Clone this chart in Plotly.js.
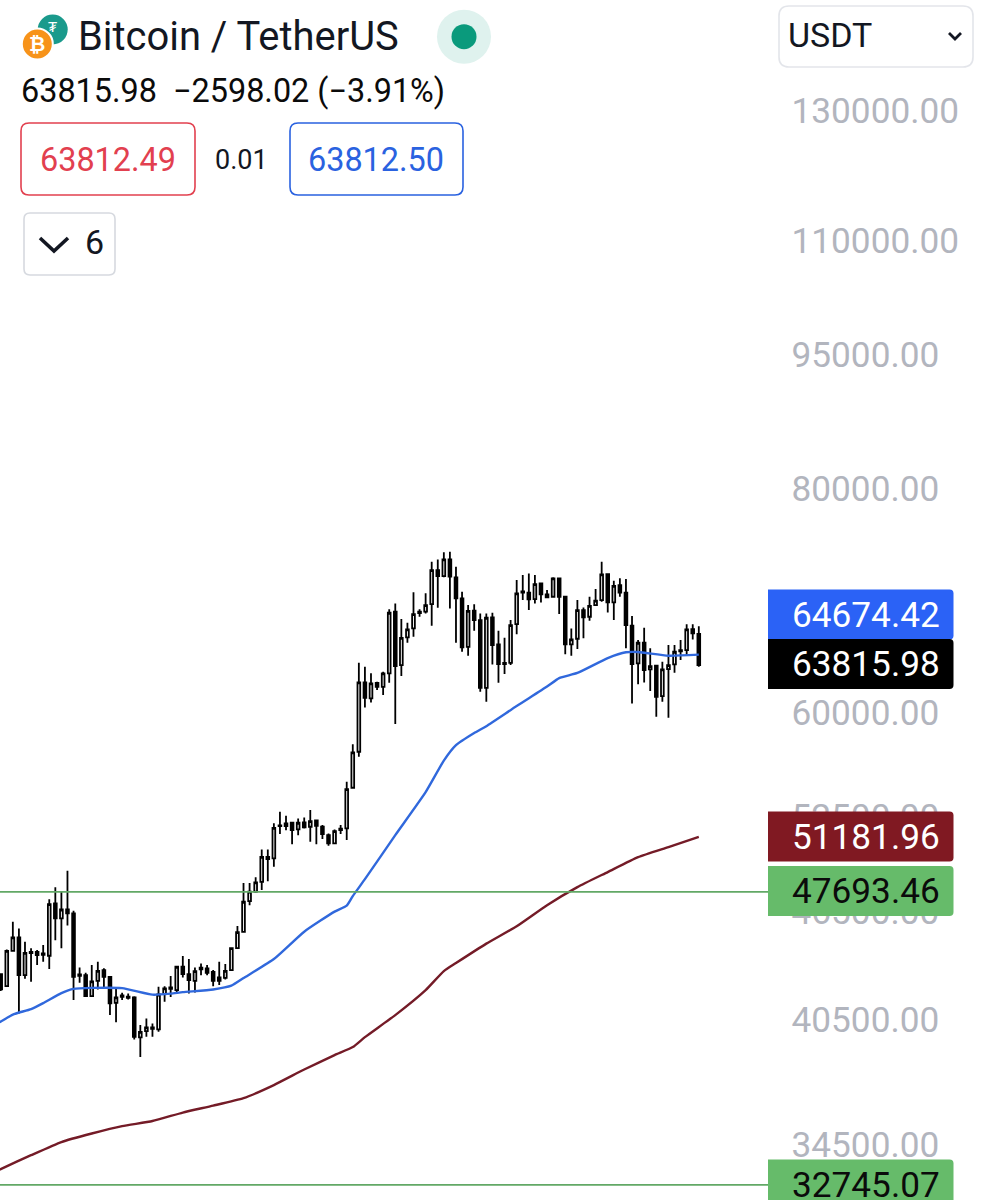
<!DOCTYPE html>
<html>
<head>
<meta charset="utf-8">
<script src="https://cdn.plot.ly/plotly-3.0.1.min.js"></script>
<style>html,body{margin:0;padding:0;background:#fff}#chart{width:983px;height:1200px}</style>
</head>
<body>
<div id="chart"></div>
<script>
const opens=[42920,42260,44220,44990,42860,44090,44165,44075,43940,46990,46095,46630,46395,42900,42860,41725,42550,43140,42770,41365,41680,41700,41650,39570,39890,40010,39980,41830,42115,42042,43325,42920,42550,43180,43235,43045,42735,42715,43140,44375,45310,47135,47705,48315,49890,49790,51900,51900,52120,51675,52145,51855,52280,51855,51300,50760,51630,51745,54515,57095,62410,61140,62380,62060,63140,68340,63815,66125,66890,68220,68340,69015,72090,71540,73085,71420,69520,65330,68425,67610,61980,67845,65530,63895,64000,67265,70030,70030,69460,70870,69880,69665,71330,69665,65530,66010,68484,67900,68925,69368,71725,69160,70720,70030,67120,63950,65670,63465,63760,61320,63490,63870,64945,65054,66830,66414];
const highs=[42960,44300,45900,45510,44735,44360,44262,44547,47240,47975,47705,49005,46550,43290,42990,43420,43605,43235,42810,42135,41900,41865,41720,40200,40545,40285,42220,42260,42820,43360,43925,43755,43290,43510,43420,43140,43605,43475,44415,45645,48235,48235,48605,50370,50370,52080,52865,52590,52185,52415,52480,52975,52345,51965,51415,51675,51965,54935,57640,64000,63680,63140,62460,63270,68545,69070,67700,67380,70060,68545,69970,72860,73085,73750,73805,72395,70115,68925,68990,68190,68190,68250,66685,66090,67610,71172,71630,71785,71630,70930,70266,71420,71390,69725,66890,69368,68720,69665,70360,72860,71785,71110,71330,71265,67960,65898,66945,65200,63815,64090,65475,65475,65898,67240,67240,67070];
const lows=[42000,42220,44165,40800,42660,42495,43420,43605,43195,44830,44360,45680,41510,42440,41700,41700,42080,42135,40720,40340,41510,41545,39465,38590,39600,39600,39855,41420,41680,41865,42735,41865,41920,42860,42860,42260,42315,42625,43100,44360,45270,46890,47645,47810,48355,49260,51370,51630,50695,51300,51745,50865,50695,51040,50600,50715,51370,50976,54475,56730,60440,60825,61800,61405,62380,59160,62920,65670,66175,67900,68190,67120,68690,71420,68630,65670,64915,64585,66685,61665,60875,63870,62380,63080,63815,66400,69368,68484,69070,69160,69610,69610,68130,64700,64585,65140,66045,67550,68925,69220,68280,67610,69665,65200,60745,62255,62410,61720,59715,60875,59640,63190,64226,64585,65950,63680];
const closes=[42080,44220,44990,42860,44108,44165,43980,43995,46950,46095,46630,46395,42770,42820,41720,42515,43100,42770,41335,41650,41755,41630,39600,39855,40080,40080,41810,42135,42190,43325,42920,42590,43085,43270,42990,42550,42550,43100,44375,45295,47095,47705,48275,49890,49740,51785,51950,52080,51630,52120,51810,52235,51920,51370,50760,51565,51720,54425,57052,62410,61190,62335,62060,63140,68250,63735,66090,66805,68130,68340,68925,72090,71540,73085,71480,69520,65280,68405,67610,61980,67810,65475,63895,64000,67180,69970,70150,69430,70810,69880,69610,71330,69665,65530,65950,68484,67845,68860,69310,71690,69160,70650,70030,67180,63895,65670,63406,63735,61265,63465,63815,64915,65054,66805,66460,63815.98];

const maBlueIdx=[-1,0,2,5,7,10,12,15,20,25,28,30,35,38,40,45,50,55,57,58,60,65,70,73,75,78,80,85,90,92,95,100,103,105,110,115];
const maBlue=[40250,40380,40745,41035,41350,41880,42110,42165,42150,41800,41855,41935,42080,42285,42700,43755,45320,46500,46860,47440,48480,51300,54210,56450,57580,58480,59000,60540,62075,62760,63170,64390,64870,64890,64585,64674.42];
const maRedIdx=[-1,0,5,10,15,20,25,30,35,40,45,50,55,58,60,65,70,73,75,80,85,90,95,100,105,110,115];
const maRed=[33290,33415,34015,34595,34975,35310,35540,35930,36250,36600,37220,37970,38680,39080,39580,40715,42042,43085,43530,44630,45640,46890,47990,48925,49870,50520,51181.96];

const levelPrices=[47693.46,32745.07];
const tickValues=[130000,110000,95000,80000,60000,52500,46500,40500,34500];
const tickLabels=['130000.00','110000.00','95000.00','80000.00','60000.00','52500.00','46500.00','40500.00','34500.00'];
const tagTexts=['64674.42','63815.98','51181.96','47693.46','32745.07'];
const tagFills=['#2B62F6','#000000','#801922','#66BB6A','#66BB6A'];
const tagInks=['#ffffff','#ffffff','#ffffff','#0b0b0b','#0b0b0b'];
const tagCentres=[614.5,664,836.5,891,1184.5];

const PW=768, PH=1200;
const px=x=>x/PW, py=y=>1-y/PH;
const idx=opens.map((_,i)=>i);
const roboto='Roboto, sans-serif';

function rrect(x0,y0,x1,y1,r){
  return `M${px(x0+r)},${py(y0)} L${px(x1-r)},${py(y0)} Q${px(x1)},${py(y0)} ${px(x1)},${py(y0+r)} L${px(x1)},${py(y1-r)} Q${px(x1)},${py(y1)} ${px(x1-r)},${py(y1)} L${px(x0+r)},${py(y1)} Q${px(x0)},${py(y1)} ${px(x0)},${py(y1-r)} L${px(x0)},${py(y0+r)} Q${px(x0)},${py(y0)} ${px(x0+r)},${py(y0)} Z`;
}
function tagPath(x0,y0,x1,y1,r){
  return `M${px(x0)},${py(y0)} L${px(x1-r)},${py(y0)} Q${px(x1)},${py(y0)} ${px(x1)},${py(y0+r)} L${px(x1)},${py(y1-r)} Q${px(x1)},${py(y1)} ${px(x1-r)},${py(y1)} L${px(x0)},${py(y1)} Z`;
}
function box(x0,y0,x1,y1,r,stroke,w,fill){
  return {type:'path',xref:'paper',yref:'paper',path:rrect(x0,y0,x1,y1,r),line:{color:stroke,width:w},fillcolor:fill||'rgba(0,0,0,0)'};
}
function circle(cx,cy,r,fill,stroke,w){
  return {type:'circle',xref:'paper',yref:'paper',x0:px(cx-r),x1:px(cx+r),y0:py(cy+r),y1:py(cy-r),fillcolor:fill,line:{color:stroke||fill,width:w||0}};
}
function poly(points,color,w){
  return {type:'path',xref:'paper',yref:'paper',path:points.map((p,i)=>(i?'L':'M')+px(p[0])+','+py(p[1])).join(' '),line:{color:color,width:w}};
}
function label(text,x,y,size,color,anchor,extra){
  return Object.assign({text:text,xref:'paper',yref:'paper',x:px(x),y:py(y),xanchor:anchor||'left',yanchor:'middle',showarrow:false,borderpad:0,align:anchor||'left',font:{family:roboto,size:size,color:color}},extra||{});
}

const traces=[
  {type:'candlestick',x:idx,open:opens,high:highs,low:lows,close:closes,
   increasing:{line:{color:'#000000',width:1.8},fillcolor:'#ffffff'},
   decreasing:{line:{color:'#000000',width:1.8},fillcolor:'#000000'},
   whiskerwidth:0,hoverinfo:'skip',showlegend:false},
  {type:'scatter',mode:'lines',x:maRedIdx,y:maRed,line:{color:'#741B27',width:2.4,shape:'spline',smoothing:0.5},hoverinfo:'skip',showlegend:false},
  {type:'scatter',mode:'lines',x:maBlueIdx,y:maBlue,line:{color:'#3068DC',width:2.4,shape:'spline',smoothing:0.5},hoverinfo:'skip',showlegend:false}
];
levelPrices.forEach(v=>traces.push({type:'scatter',mode:'lines',x:[-5,135],y:[v,v],line:{color:'#62A866',width:1.6},hoverinfo:'skip',showlegend:false}));

const shapes=[
  circle(52.7,29.5,15,'#1A9A8C'),
  circle(37.3,44,15.5,'#F7931A','#ffffff',2),
  circle(464,36.7,27,'#DFF2EE'),
  circle(464,36.7,12.5,'#0A9A7C'),
  box(21,123,195,195,8,'#E2404F',1.6),
  box(290,123,463,195,8,'#2A62E0',1.6),
  box(24,213,115,275,6,'#D6D9DF',1.6),
  box(779,6,973,67,10,'#E3E5EA',1.6),
  poly([[40,238],[54,251],[68,238]],'#131722',3.6),
  poly([[949,33],[955,39],[961,33]],'#131722',2.8)
];
tagCentres.forEach((c,i)=>shapes.push({type:'path',xref:'paper',yref:'paper',path:tagPath(768,c-25,953.5,c+25,4),fillcolor:tagFills[i],line:{width:0}}));

const annotations=[
  label('₮',52.7,27,15,'#ffffff','center'),
  label('<b>₿</b>',37.3,44,20,'#ffffff','center'),
  label('Bitcoin / TetherUS',76.5,36,39.9,'#131722'),
  label('63815.98  −2598.02 (−3.91%)',19.5,91,32.4,'#0b0b0b'),
  label('63812.49',107.5,160,32.4,'#E2404F','center'),
  label('0.01',241.5,159.5,27,'#131722','center'),
  label('63812.50',376,160,32.4,'#2A62E0','center'),
  label('6',94,242,34,'#131722','center'),
  label('USDT',786.5,35,34,'#131722')
];
tagTexts.forEach((t,i)=>annotations.push(label(t,940.5,tagCentres[i],35.2,tagInks[i],'right')));

Plotly.newPlot('chart',traces,{
  width:983,height:1200,
  margin:{l:0,r:215,t:0,b:0,pad:0},
  paper_bgcolor:'#ffffff',plot_bgcolor:'#ffffff',
  showlegend:false,boxgap:0.36,hovermode:false,
  xaxis:{visible:false,range:[-0.115,126.4],rangeslider:{visible:false},fixedrange:true},
  yaxis:{type:'log',range:[4.5067,5.1757],side:'right',autorange:false,fixedrange:true,
    tickmode:'array',tickvals:tickValues,ticktext:tickLabels,
    ticks:'outside',ticklen:15.5,tickcolor:'rgba(0,0,0,0)',
    showgrid:false,zeroline:false,showline:false,
    tickfont:{family:roboto,size:35.2,color:'#B2B5BE'}},
  shapes:shapes,annotations:annotations
},{staticPlot:true,displayModeBar:false});
</script>
</body>
</html>
